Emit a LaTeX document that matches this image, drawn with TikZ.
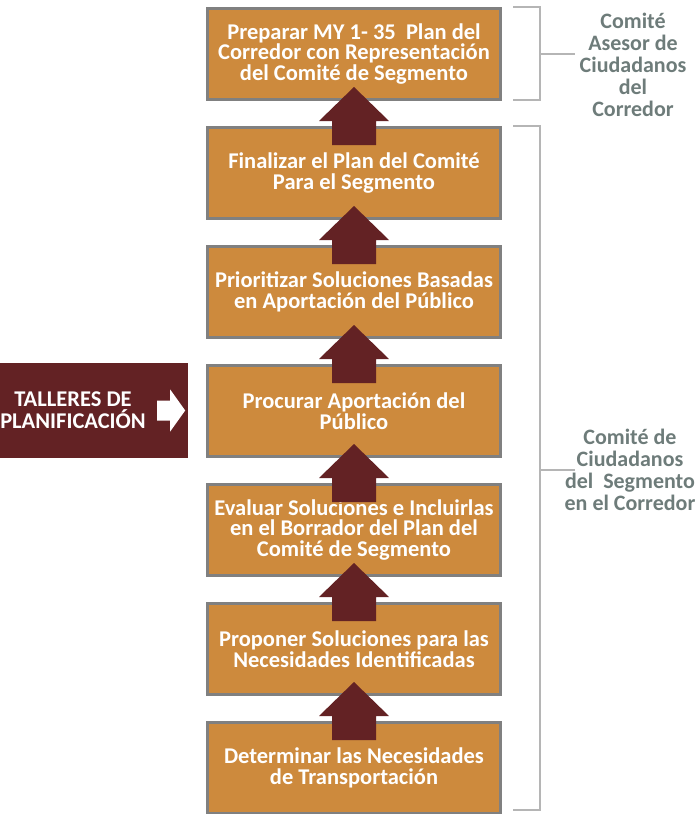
\documentclass[tikz,border=0pt]{standalone}
\usepackage{fontspec}
\setmainfont{Carlito}
\usetikzlibrary{calc}
\definecolor{boxorange}{HTML}{CD8A3D}
\definecolor{boxgray}{HTML}{808080}
\definecolor{maroon}{HTML}{632224}
\definecolor{bracketgray}{HTML}{B5B5B5}
\definecolor{labelgray}{HTML}{6E7C7A}
\def\blockup(#1)(#2){\fill[maroon] ($(#1.south)+(0,-14)$) -- ($(#2.north)+(35,-5)$) -- ($(#2.north)+(22,-5)$) -- ($(#2.north)+(22,19)$) -- ($(#2.north)+(-22,19)$) -- ($(#2.north)+(-22,-5)$) -- ($(#2.north)+(-35,-5)$) -- cycle;}
\tikzset{
	stepbox/.style={draw=boxgray, line width=3pt, fill=boxorange, minimum width=293pt, minimum height=91pt, inner sep=0pt, align=center, text=white, font=\fontsize{22.5}{20.5}\selectfont\bfseries},
	talleres/.style={fill=maroon, minimum width=188pt, minimum height=95pt, inner sep=0pt},
	tallerestext/.style={align=center, text=white, inner sep=0pt, font=\fontsize{22.5}{22}\selectfont\bfseries},
	committee/.style={align=center, text=labelgray, inner sep=0pt, font=\fontsize{22}{22}\selectfont\bfseries},
	bracket/.style={draw=bracketgray, line width=2.5pt}
}
\begin{document}
\begin{tikzpicture}[x=1pt, y=-1pt]
			%%%%% START %%%%%
			\useasboundingbox (0, 0) rectangle (697, 814);
			
			\node[stepbox] (preparar) at (354, 54) {Preparar MY 1- 35\ \ Plan del\\Corredor con Representación\\del Comité de Segmento};
			\node[stepbox] (finalizar) at (354, 173) {Finalizar el Plan del Comité\\Para el Segmento};
			\node[stepbox] (priorizar) at (354, 292) {Prioritizar Soluciones Basadas\\en Aportación del Público};
			\node[stepbox] (procurar) at (354, 411) {Procurar Aportación del\\Público};
			\node[stepbox] (evaluar) at (354, 530) {Evaluar Soluciones e Incluirlas\\en el Borrador del Plan del\\Comité de Segmento};
			\node[stepbox] (proponer) at (354, 649) {Proponer Soluciones para las\\Necesidades Identificadas};
			\node[stepbox] (determinar) at (354, 768) {Determinar las Necesidades\\de Transportación};
			
			\blockup(preparar)(finalizar)
			\blockup(finalizar)(priorizar)
			\blockup(priorizar)(procurar)
			\blockup(procurar)(evaluar)
			\blockup(evaluar)(proponer)
			\blockup(proponer)(determinar)
			
			\node[talleres] (taller) at (94, 410.5) {};
			\node[tallerestext] (tallertxt) at ($(taller.center)+(-21, 0)$) {TALLERES DE\\PLANIFICACIÓN};
			\fill[white] ($(taller.east)+(-31, -10)$) -- ++(13, 0) -- ++(0, -11) -- ($(taller.east)+(-3, 0)$) -- ++(-15, 21) -- ++(0, -11) -- ++(-13, 0) -- cycle;
			
			\draw[bracket] ($(preparar.north east)+(11, 0)$) -- ++(27, 0) -- ++(0, 93) -- ++(-27, 0);
			\draw[bracket] ($(preparar.east)+(38, 0)$) -- ++(35, 0);
			\node[committee] (asesor) at (633, 65) {Comité\\Asesor de\\Ciudadanos\\del\\Corredor};
			
			\draw[bracket] ($(finalizar.north east)+(11, 0)$) -- ++(27, 0) -- ++(0, 684) -- ++(-27, 0);
			\draw[bracket] ($(procurar.east)+(38, 59)$) -- ++(35, 0);
			\node[committee] (segmento) at (630, 470) {Comité de\\Ciudadanos\\del\ \ Segmento\\en el Corredor};
			
			%%%%% END %%%%%
\end{tikzpicture}
\end{document}
